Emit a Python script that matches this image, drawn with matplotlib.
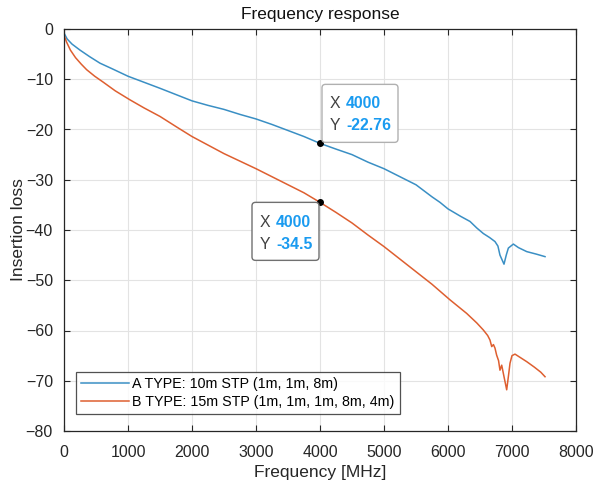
import matplotlib
matplotlib.use("Agg")
import matplotlib.pyplot as plt
from matplotlib.patches import FancyBboxPatch
from matplotlib.transforms import ScaledTranslation

plt.rcParams['font.family'] = ['Liberation Sans', 'DejaVu Sans']

# ---- data ----
freq_a = [0, 50, 125, 250, 400, 562, 750, 1000, 1250, 1500, 1760, 2000, 2250, 2500,
          2750, 3000, 3250, 3500, 3750, 4000, 4250, 4500, 4750, 5000, 5250, 5500,
          5750, 5875, 6000, 6200, 6344, 6450, 6552, 6650, 6734, 6780, 6812, 6875,
          6910, 6943, 7021, 7100, 7230, 7380, 7516]
loss_a = [-0.8, -2.0, -3.0, -4.2, -5.5, -6.8, -7.9, -9.4, -10.6, -11.8, -13.1, -14.3,
          -15.2, -16.0, -17.0, -17.9, -19.0, -20.2, -21.4, -22.76, -23.9, -25.0, -26.5,
          -27.8, -29.4, -31.0, -33.4, -34.5, -35.8, -37.3, -38.3, -39.6, -40.7, -41.5,
          -42.3, -43.2, -45.0, -46.8, -45.0, -43.6, -42.8, -43.5, -44.3, -44.8, -45.3]

freq_b = [0, 40, 100, 180, 270, 354, 480, 615, 800, 1031, 1250, 1500, 1760, 2000, 2250,
          2500, 2750, 3000, 3250, 3500, 3750, 4000, 4250, 4500, 4750, 5000, 5250,
          5500, 5750, 6031, 6292, 6450, 6552, 6620, 6656, 6683, 6710, 6734, 6760,
          6790, 6812, 6839, 6880, 6917, 6945, 6969, 7000, 7047, 7120, 7230, 7350,
          7450, 7516]
loss_b = [-1.2, -2.6, -4.2, -5.7, -7.0, -8.1, -9.4, -10.6, -12.3, -14.1, -15.7, -17.4,
          -19.5, -21.4, -23.1, -24.8, -26.3, -27.8, -29.4, -31.0, -32.6, -34.5, -36.5,
          -38.6, -41.0, -43.3, -45.8, -48.3, -50.8, -53.9, -56.6, -58.5, -59.9, -61.0,
          -61.9, -63.2, -62.8, -63.5, -64.9, -66.0, -67.9, -66.9, -69.5, -71.8, -69.0,
          -66.5, -65.0, -64.7, -65.3, -66.2, -67.3, -68.3, -69.2]

label_a = 'A TYPE: 10m STP (1m, 1m, 8m)'
label_b = 'B TYPE: 15m STP (1m, 1m, 1m, 8m, 4m)'
tip_x = 4000
tip_a = -22.76
tip_b = -34.5

xticks = [0, 1000, 2000, 3000, 4000, 5000, 6000, 7000, 8000]
yticks = [0, -10, -20, -30, -40, -50, -60, -70, -80]

# ---- figure ----
fig = plt.figure(figsize=(6.03, 4.87), dpi=100)
ax = fig.add_axes([64/603, 56/487, 512/603, 402/487])

col_a = '#3a8fc4'
col_b = '#de5f30'
ax.plot(freq_a, loss_a, color=col_a, lw=1.1, label=label_a)
ax.plot(freq_b, loss_b, color=col_b, lw=1.1, label=label_b)

ax.set_xlim(0, 8000)
ax.set_ylim(-80, 0)
ax.set_xticks(xticks)
ax.set_yticks(yticks)
ax.grid(True, color='#e3e3e3', lw=0.8)
ax.set_axisbelow(True)
for s in ax.spines.values():
    s.set_color('#262626')
    s.set_linewidth(0.9)
ax.tick_params(direction='in', top=True, right=True, length=4, width=0.8,
               colors='#262626', labelsize=11.5)
ax.tick_params(axis='x', pad=10)
ax.tick_params(axis='y', pad=8)
for lab in ax.get_xticklabels() + ax.get_yticklabels():
    lab.set_color('#262626')

ax.set_title('Frequency response', fontsize=12.5, color='#111111', pad=7.5)
ax.set_xlabel('Frequency [MHz]', fontsize=12.5, color='#262626', labelpad=4)
ax.set_ylabel('Insertion loss', fontsize=12.5, color='#262626', labelpad=0)

leg = ax.legend(loc='lower left', bbox_to_anchor=(0.023, 0.042), fontsize=10.3,
                frameon=True, fancybox=False, handlelength=3.4, handletextpad=0.2,
                borderpad=0.35, labelspacing=0.3, borderaxespad=0)
leg.get_frame().set_edgecolor('#262626')
leg.get_frame().set_linewidth(0.9)

# ---- data tips ----
ax.plot([tip_x, tip_x], [tip_a, tip_b], 'o', color='black', ms=4, zorder=5)

def datatip(xv, yv, box, xt, yrows, ec):
    # box = (x0, y0, w, h) in pixels relative to the data point (y up)
    trans = fig.dpi_scale_trans + ScaledTranslation(xv, yv, ax.transData)
    x0, y0, w, h = [v / 100 for v in box]
    ax.add_patch(FancyBboxPatch((x0, y0), w, h, boxstyle='round,pad=0,rounding_size=0.035',
                                transform=trans, fc='white', ec=ec, lw=1.0,
                                zorder=6, clip_on=False))
    fs = 11.4
    for name, val, yy in [('X', f'{xv}', yrows[0]), ('Y', f'{yv:g}', yrows[1])]:
        ax.text(xt[0] / 100, yy / 100, name, transform=trans, fontsize=fs, color='#404040',
                va='center', ha='left', zorder=7)
        ax.text(xt[1] / 100, yy / 100, val, transform=trans, fontsize=fs, color='#1a9bf0',
                fontweight='bold', va='center', ha='left', zorder=7)

datatip(tip_x, tip_a, (2, 1, 76, 58), (10, 26), (40, 18), '#b0b0b0')
datatip(tip_x, tip_b, (-68, -58, 67, 58), (-60, -44), (-20, -42), '#707070')

fig.savefig('out.png', dpi=100, facecolor='white')
